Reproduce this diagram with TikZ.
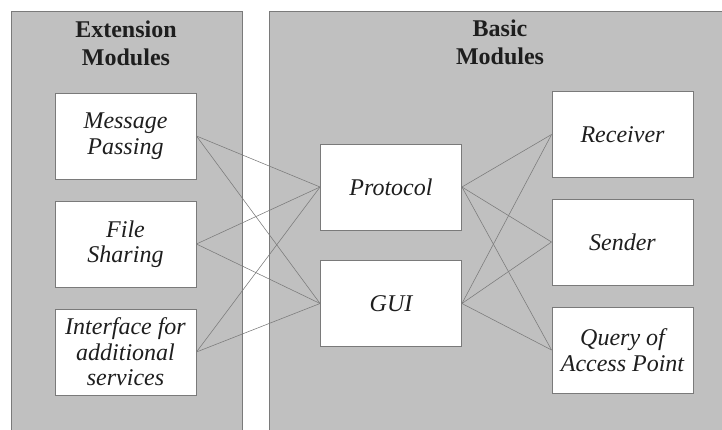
\documentclass[tikz,border=0pt]{standalone}
\usepackage{fontspec}
\setmainfont{Liberation Serif}
\usepackage{xcolor}
\usepackage{tikz}
\usetikzlibrary{positioning,shapes,calc}
\definecolor{panelgray}{HTML}{C0C0C0}
\definecolor{edgegray}{HTML}{7A7A7A}
\definecolor{inkgray}{HTML}{1E1E1E}
\tikzset{
  panel/.style={fill=panelgray,draw=edgegray,line width=0.9pt},
  title/.style={font=\fontsize{24}{28}\selectfont\bfseries,align=center,text=inkgray},
  module/.style={draw=edgegray,fill=white,line width=0.9pt,minimum width=141pt,minimum height=86pt,
    align=center,font=\fontsize{24}{25.5}\selectfont\itshape,text=inkgray,inner sep=0pt},
  link/.style={draw=edgegray,line width=0.55pt}
}

\begin{document}
\begin{tikzpicture}[x=1pt,y=-1pt]
      \useasboundingbox (0,0) rectangle (722,430);
      \clip (0,0) rectangle (722,430);

      \draw[panel] (11,11) rectangle (242,440);
      \draw[panel] (269,11) rectangle (740,440);

      \node[title] at (126,43) (ext) {Extension\\Modules};
      \node[title] at (500,42) (basic) {Basic\\Modules};

      \node[module] at (125.5,136) (msg) {Message\\Passing};
      \node[module] at (125.5,244) (file) {File\\Sharing};
      \node[module] at (125.5,352) (iface) {Interface for\\additional\\services};

      \node[module] at (391,187) (prot) {Protocol};
      \node[module] at (391,303.5) (gui) {GUI};

      \node[module] at (622.5,134.5) (recv) {Receiver};
      \node[module] at (622.5,242) (send) {Sender};
      \node[module] at (622.5,350) (query) {Query of\\Access Point};

      \draw[link] (msg.east)--(prot.west);
      \draw[link] (msg.east)--(gui.west);
      \draw[link] (file.east)--(prot.west);
      \draw[link] (file.east)--(gui.west);
      \draw[link] (iface.east)--(prot.west);
      \draw[link] (iface.east)--(gui.west);

      \draw[link] (prot.east)--(recv.west);
      \draw[link] (prot.east)--(send.west);
      \draw[link] (prot.east)--(query.west);
      \draw[link] (gui.east)--(recv.west);
      \draw[link] (gui.east)--(send.west);
      \draw[link] (gui.east)--(query.west);
    \end{tikzpicture}
\end{document}
